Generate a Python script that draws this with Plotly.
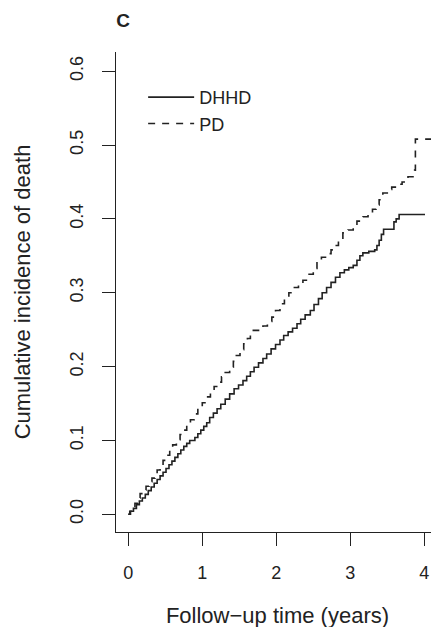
import plotly.graph_objects as go

# DHHD cumulative incidence (step function)
dhhd_time = [0.00, 0.03, 0.07, 0.11, 0.15, 0.19, 0.23, 0.27, 0.31, 0.35, 0.39, 0.43, 0.47,
             0.51, 0.55, 0.59, 0.63, 0.67, 0.71, 0.75, 0.79, 0.83, 0.90, 0.94, 0.98, 1.02,
             1.06, 1.10, 1.15, 1.20, 1.25, 1.31, 1.37, 1.43, 1.49, 1.55, 1.60, 1.65, 1.70,
             1.76, 1.82, 1.87, 1.93, 1.99, 2.05, 2.10, 2.16, 2.22, 2.28, 2.33, 2.39, 2.46,
             2.51, 2.57, 2.62, 2.68, 2.74, 2.80, 2.86, 2.92, 2.98, 3.04, 3.09, 3.13, 3.17,
             3.25, 3.33, 3.36, 3.39, 3.42, 3.45, 3.59, 3.62, 3.66, 4.01]
dhhd_cif = [0.000, 0.004, 0.008, 0.013, 0.018, 0.022, 0.027, 0.032, 0.037, 0.042, 0.047,
            0.052, 0.057, 0.062, 0.067, 0.072, 0.077, 0.082, 0.087, 0.092, 0.096, 0.100,
            0.104, 0.109, 0.114, 0.119, 0.124, 0.131, 0.137, 0.143, 0.149, 0.156, 0.163,
            0.170, 0.175, 0.181, 0.187, 0.193, 0.199, 0.205, 0.211, 0.217, 0.224, 0.230,
            0.236, 0.242, 0.247, 0.252, 0.258, 0.264, 0.270, 0.276, 0.284, 0.292, 0.300,
            0.307, 0.314, 0.321, 0.327, 0.331, 0.334, 0.337, 0.344, 0.350, 0.354, 0.356,
            0.358, 0.364, 0.371, 0.379, 0.386, 0.396, 0.400, 0.406, 0.406]

# PD cumulative incidence (step function)
pd_time = [0.00, 0.02, 0.05, 0.09, 0.13, 0.16, 0.20, 0.24, 0.28, 0.32, 0.36, 0.39, 0.43,
           0.47, 0.51, 0.56, 0.60, 0.65, 0.70, 0.74, 0.79, 0.84, 0.89, 0.94, 1.00, 1.06,
           1.11, 1.16, 1.21, 1.26, 1.31, 1.37, 1.42, 1.46, 1.51, 1.56, 1.61, 1.65, 1.69,
           1.76, 1.82, 1.88, 1.94, 1.99, 2.05, 2.11, 2.17, 2.23, 2.30, 2.36, 2.43, 2.50,
           2.55, 2.61, 2.68, 2.74, 2.79, 2.84, 2.90, 2.97, 3.04, 3.09, 3.17, 3.24, 3.30,
           3.35, 3.39, 3.44, 3.50, 3.56, 3.63, 3.70, 3.78, 3.87, 3.88, 4.16]
pd_cif = [0.000, 0.004, 0.009, 0.015, 0.022, 0.028, 0.033, 0.038, 0.044, 0.049, 0.055,
          0.060, 0.066, 0.073, 0.080, 0.088, 0.094, 0.101, 0.108, 0.114, 0.121, 0.128,
          0.136, 0.143, 0.151, 0.159, 0.166, 0.173, 0.179, 0.186, 0.192, 0.199, 0.207,
          0.215, 0.223, 0.231, 0.238, 0.244, 0.249, 0.252, 0.255, 0.261, 0.267, 0.276,
          0.285, 0.293, 0.300, 0.307, 0.311, 0.317, 0.325, 0.333, 0.342, 0.348, 0.353,
          0.358, 0.364, 0.371, 0.381, 0.385, 0.389, 0.397, 0.403, 0.408, 0.413, 0.419,
          0.426, 0.435, 0.440, 0.443, 0.447, 0.450, 0.457, 0.466, 0.508, 0.508]

x_ticks = [0, 1, 2, 3, 4]
y_ticks = [0.0, 0.1, 0.2, 0.3, 0.4, 0.5, 0.6]

INK = "#222222"
FONT = "Liberation Sans, Arial, sans-serif"

fig = go.Figure()
fig.add_trace(go.Scatter(x=dhhd_time, y=dhhd_cif, mode="lines", name="DHHD",
                         line=dict(color=INK, width=1.6, shape="hv")))
fig.add_trace(go.Scatter(x=pd_time, y=pd_cif, mode="lines", name="PD",
                         line=dict(color=INK, width=1.6, shape="hv", dash="7px,7px")))

# the page body adds an 8px offset, so margins are set to compensate
fig.update_layout(
    width=439, height=627,
    margin=dict(l=108, r=8, t=44, b=103, pad=0),
    paper_bgcolor="white", plot_bgcolor="white",
    font=dict(family=FONT, size=18, color=INK),
    title=dict(text="<b>C</b>", x=115 / 439, y=1 - 12 / 627, xref="container", yref="container",
               xanchor="center", yanchor="middle", font=dict(size=19, color=INK)),
    showlegend=True,
    legend=dict(x=0.084, y=0.944, xanchor="left", yanchor="top", bgcolor="rgba(0,0,0,0)",
                borderwidth=0, font=dict(size=18, color=INK), itemwidth=46,
                tracegroupgap=0),
    xaxis=dict(range=[-0.166, 4.199], tickvals=x_ticks, ticktext=[str(v) for v in x_ticks],
               automargin=False,
               showgrid=False, zeroline=False, showline=True, linecolor=INK, linewidth=1.3,
               ticks="outside", ticklen=13, tickwidth=1.3, tickcolor=INK,
               ticklabelstandoff=11,
               title=dict(text="Follow\u2212up time (years)", standoff=25)),
    yaxis=dict(range=[-0.024, 0.626], tickvals=y_ticks, ticktext=[f"{v:.1f}" for v in y_ticks],
               tickangle=-90, automargin=False,
               showgrid=False, zeroline=False, showline=True, linecolor=INK, linewidth=1.3,
               ticks="outside", ticklen=13, tickwidth=1.3, tickcolor=INK,
               ticklabelstandoff=12,
               title=dict(text="Cumulative incidence of death", standoff=29)),
)

fig.write_html("out.html")
